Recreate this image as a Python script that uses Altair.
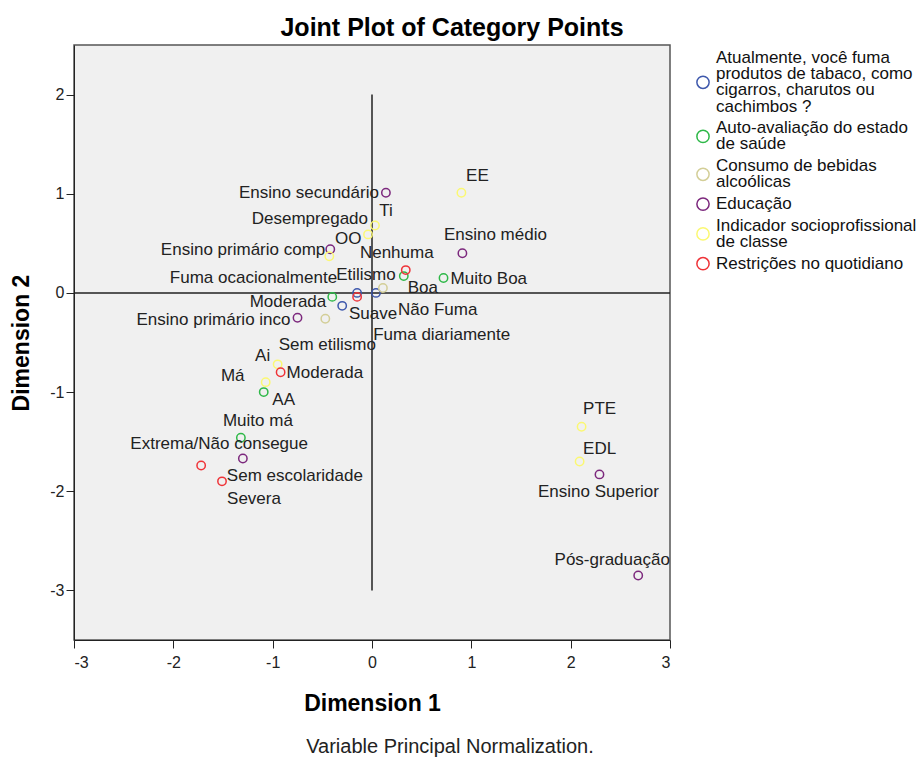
import altair as alt
import pandas as pd

FONT = "Liberation Sans, Arial, sans-serif"

# Variables in legend order, with the wrapped legend text and SPSS-style colours
variables = [
    "Atualmente, você fuma produtos de tabaco, como cigarros, charutos ou cachimbos ?",
    "Auto-avaliação do estado de saúde",
    "Consumo de bebidas alcoólicas",
    "Educação",
    "Indicador socioprofissional de classe",
    "Restrições no quotidiano",
]
legend_lines = [
    ["Atualmente, você fuma", "produtos de tabaco, como", "cigarros, charutos ou", "cachimbos ?"],
    ["Auto-avaliação do estado", "de saúde"],
    ["Consumo de bebidas", "alcoólicas"],
    ["Educação"],
    ["Indicador socioprofissional", "de classe"],
    ["Restrições no quotidiano"],
]
palette = ["#3E58AC", "#2EB848", "#D3CE97", "#7C287D", "#FBF873", "#EF3338"]

# Category points (Dimension 1, Dimension 2) per variable
smoking = ["Fuma ocacionalmente", "Não Fuma", "Fuma diariamente"]
smoking_d1 = [-0.15, 0.04, -0.30]
smoking_d2 = [0.00, 0.00, -0.13]

health = ["Muito Boa", "Boa", "Moderada", "Má", "Muito má"]
health_d1 = [0.72, 0.32, -0.40, -1.09, -1.32]
health_d2 = [0.15, 0.17, -0.04, -1.00, -1.46]

alcohol = ["Etilismo", "Sem etilismo"]
alcohol_d1 = [0.11, -0.47]
alcohol_d2 = [0.05, -0.26]

education = ["Ensino secundário", "Ensino médio", "Ensino primário comp",
             "Ensino primário inco", "Sem escolaridade", "Ensino Superior",
             "Pós-graduação"]
education_d1 = [0.14, 0.91, -0.42, -0.75, -1.30, 2.29, 2.68]
education_d2 = [1.01, 0.40, 0.44, -0.25, -1.67, -1.83, -2.85]

social_class = ["EE", "Ti", "Desempregado", "OO", "Ai", "AA", "PTE", "EDL"]
social_class_d1 = [0.90, 0.03, -0.04, -0.43, -0.95, -1.07, 2.11, 2.09]
social_class_d2 = [1.01, 0.68, 0.59, 0.37, -0.72, -0.90, -1.35, -1.70]

restrictions = ["Nenhuma", "Suave", "Moderada", "Extrema/Não consegue", "Severa"]
restrictions_d1 = [0.34, -0.15, -0.92, -1.72, -1.51]
restrictions_d2 = [0.23, -0.04, -0.80, -1.74, -1.90]

groups = [
    (smoking, smoking_d1, smoking_d2),
    (health, health_d1, health_d2),
    (alcohol, alcohol_d1, alcohol_d2),
    (education, education_d1, education_d2),
    (social_class, social_class_d1, social_class_d2),
    (restrictions, restrictions_d1, restrictions_d2),
]

# Label placement: pixel offset from the point to the label anchor, and text alignment
label_place = [
    [(-20, -15, "right"), (22, 17, "left"), (31, 29, "left")],
    [(7, 1, "left"), (19, 12, "center"), (-6, 5, "right"), (-31, -16, "center"), (17, -17, "center")],
    [(-17, -13, "center"), (2, 26, "center")],
    [(-7, 0, "right"), (33, -18, "center"), (-5, 1, "right"), (-7, 2, "right"),
     (-16, 17, "left"), (-1, 18, "center"), (-26, -16, "center")],
    [(16, -17, "center"), (11, -14, "center"), (0, -15, "right"), (19, -17, "center"),
     (-15, -8, "center"), (18, 18, "center"), (18, -18, "center"), (20, -13, "center")],
    [(-9, -17, "center"), (16, 17, "center"), (6, 1, "left"), (18, -21, "center"), (32, 18, "center")],
]

# Layout (pixels): plot area placement and the legend block to its right
LEFT, TOP = 74, 45
PLOT_W, PLOT_H = 596, 595
X_DOMAIN = [-3, 3]
Y_DOMAIN = [-3.5, 2.5]
px_x = (X_DOMAIN[1] - X_DOMAIN[0]) / PLOT_W
px_y = (Y_DOMAIN[1] - Y_DOMAIN[0]) / PLOT_H

LEG_SYMBOL_X = 703
LEG_TEXT_X = 716
LEG_FIRST_LINE = 58
LEG_LINE_H = 16.2
LEG_GAP = 5.5


def to_x(px):
    return X_DOMAIN[0] + (px - LEFT) * px_x


def to_y(py):
    return Y_DOMAIN[1] - (py - TOP) * px_y


rows = []
for var, (names, d1, d2), places in zip(variables, groups, label_place):
    for name, a, b, (dx, dy, al) in zip(names, d1, d2, places):
        rows.append({
            "variable": var, "category": name, "dim1": a, "dim2": b,
            "lx": a + dx * px_x, "ly": b - dy * px_y, "align": al,
        })
points = pd.DataFrame(rows)

# Legend entries: symbol centred on its wrapped text block
leg_rows = []
line_y = LEG_FIRST_LINE
for var, lines in zip(variables, legend_lines):
    centre = line_y + (len(lines) - 1) * LEG_LINE_H / 2
    leg_rows.append({
        "variable": var, "lines": lines,
        "sx": to_x(LEG_SYMBOL_X), "sy": to_y(centre),
        "tx": to_x(LEG_TEXT_X), "ty": to_y(line_y),
    })
    line_y += len(lines) * LEG_LINE_H + LEG_GAP
legend_df = pd.DataFrame(leg_rows)

# Reference axes through the origin
ref_x = [-3, 0]
ref_x2 = [3, 0]
ref_y = [0, -3]
ref_y2 = [0, 2]
refs = pd.DataFrame({"x": ref_x, "x2": ref_x2, "y": ref_y, "y2": ref_y2})

xscale = alt.Scale(domain=X_DOMAIN, nice=False, zero=False)
yscale = alt.Scale(domain=Y_DOMAIN, nice=False, zero=False)
xaxis = alt.Axis(values=[-3, -2, -1, 0, 1, 2, 3], labelExpr="datum.value", title="Dimension 1",
                 tickSize=8, labelPadding=6, titleY=70, titleBaseline="alphabetic")
yaxis = alt.Axis(values=[-3, -2, -1, 0, 1, 2], labelExpr="datum.value", title="Dimension 2",
                 tickSize=8, labelPadding=2, titleX=-46, titleBaseline="alphabetic")


def X(field):
    return alt.X(f"{field}:Q", scale=xscale, axis=xaxis)


def Y(field):
    return alt.Y(f"{field}:Q", scale=yscale, axis=yaxis)


colour = alt.Color("variable:N", scale=alt.Scale(domain=variables, range=palette), legend=None)

rules = alt.Chart(refs).mark_rule(color="#222", strokeWidth=1.5).encode(
    x=X("x"), x2="x2", y=Y("y"), y2="y2"
)

dots = alt.Chart(points).mark_point(
    shape="circle", filled=False, size=70, strokeWidth=1.5, opacity=1
).encode(x=X("dim1"), y=Y("dim2"), color=colour)

labels = [
    alt.Chart(points).transform_filter(alt.datum.align == al).mark_text(
        align=al, baseline="middle", font=FONT, fontSize=17, color="#222", clip=True
    ).encode(x=X("lx"), y=Y("ly"), text="category:N")
    for al in ["left", "center", "right"]
]

legend_symbols = alt.Chart(legend_df).mark_point(
    shape="circle", filled=False, size=150, strokeWidth=1.5, opacity=1
).encode(x=X("sx"), y=Y("sy"), color=colour)

legend_text = alt.Chart(legend_df).mark_text(
    align="left", baseline="middle", font=FONT, fontSize=17, lineHeight=LEG_LINE_H, color="#111"
).encode(x=X("tx"), y=Y("ty"), text="lines")

note = alt.Chart(pd.DataFrame({"note": ["Variable Principal Normalization."]})).mark_text(
    align="center", baseline="alphabetic", font=FONT, fontSize=20, color="#222"
).encode(x=alt.value(376), y=alt.value(708), text="note:N")

chart = alt.layer(rules, dots, *labels, legend_symbols, legend_text, note).properties(
    width=PLOT_W,
    height=PLOT_H,
    title=alt.TitleParams(
        "Joint Plot of Category Points", font=FONT, fontSize=25, fontWeight="bold",
        color="#000", anchor="middle", dx=80, dy=28, offset=12, baseline="alphabetic",
    ),
    autosize=alt.AutoSizeParams(type="none"),
    padding={"left": LEFT, "top": TOP, "right": 922 - LEFT - PLOT_W, "bottom": 757 - TOP - PLOT_H},
).configure_view(
    fill="#f0f0f0", stroke="#555", strokeWidth=1.5
).configure_axis(
    labelFont=FONT, labelFontSize=16, labelColor="#222", tickColor="#222",
    domainColor="#222", grid=False, titleFont=FONT, titleFontSize=23,
    titleFontWeight="bold", titleColor="#000",
)

chart.save("out.html", embed_options={"renderer": "svg", "actions": False})
